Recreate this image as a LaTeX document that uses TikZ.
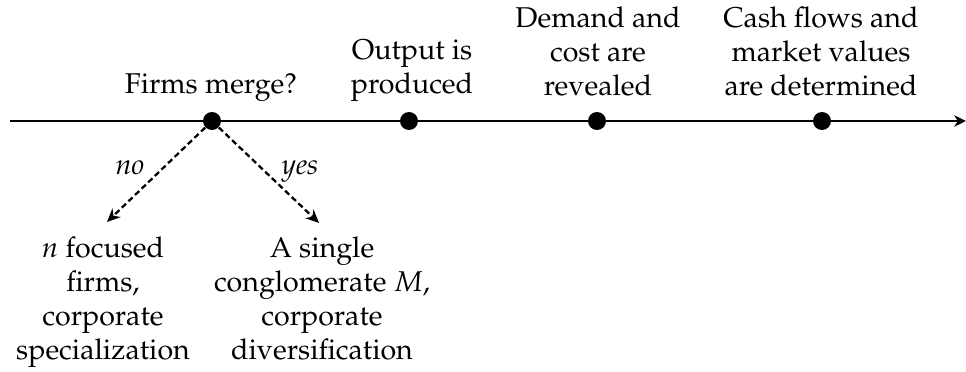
\documentclass[tikz,border=0pt]{standalone}
\usepackage[T1]{fontenc}
\usepackage{mathpazo}
\usetikzlibrary{arrows.meta}
\tikzset{
  event/.style={circle, fill=black, inner sep=0pt, minimum size=0.276cm},
  stage/.style={align=center, anchor=base, inner sep=0pt},
  choice/.style={-{Stealth[length=5.8pt,width=5.2pt]}, line width=1pt, dash pattern=on 2.5pt off 1.5pt},
}
\begin{document}
\begin{tikzpicture}[x=0.01535cm, y=-0.01535cm, font=\fontsize{12.5}{14.85}\selectfont]%{{{
    \useasboundingbox (0,0) rectangle (966,372);

    % time line
    \coordinate (tstart) at (10,121);
    \coordinate (tend) at (966,121);
    \draw [-{Stealth[length=5.2pt,width=5pt]}, line width=0.9pt] (tstart) -- (tend);

    \node (merge) [event] at (212,121) {};
    \node (output) [event] at (409,121) {};
    \node (demand) [event] at (597,121) {};
    \node (cash) [event] at (822,121) {};

    \node (mergetxt) [stage] at (211,94) {Firms merge?};
    \node (outputtxt) [stage] at (412,94) {Output is\\produced};
    \node (demandtxt) [stage] at (598,96) {Demand and\\cost are\\revealed};
    \node (cashtxt) [stage] at (821,96) {Cash flows and\\market values\\are determined};

    % merger decision
    \coordinate (noend) at (107,222);
    \coordinate (yesend) at (319,223);
    \draw [choice] (merge) -- (noend);
    \draw [choice] (merge) -- (yesend);
    \node (notxt) [stage] at (130,175) {\textit{no}};
    \node (yestxt) [stage] at (300,175) {\textit{yes}};

    \node (focus) [stage] at (103,360) {$n$ focused\\firms,\\corporate\\specialization};
    \node (conglo) [stage] at (322,360) {A single\\conglomerate $M$,\\corporate\\diversification};
  \end{tikzpicture}
\end{document}
